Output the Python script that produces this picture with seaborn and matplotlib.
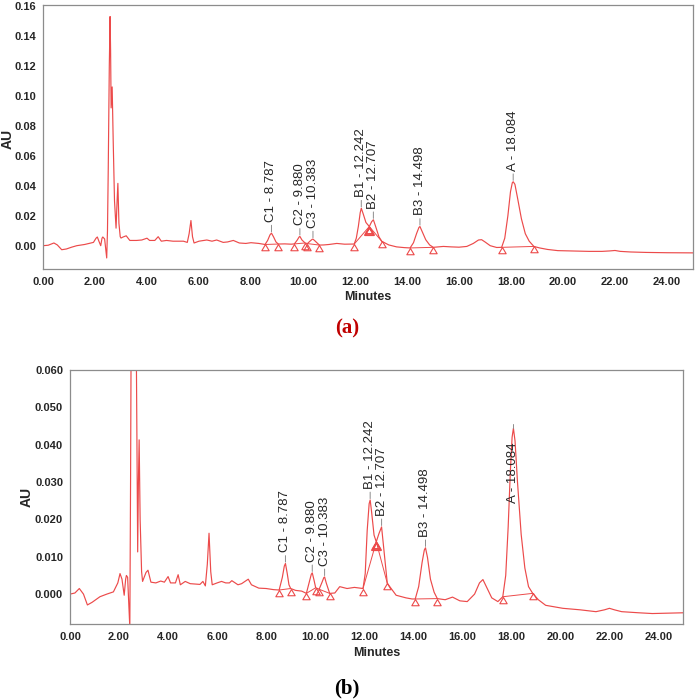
import pandas as pd
import seaborn as sns
import matplotlib.pyplot as plt
from matplotlib.path import Path
from matplotlib.ticker import MultipleLocator, AutoMinorLocator, FormatStrFormatter

# ---- panel (a): full scale trace ----
TIME_A = [0.0, 0.2, 0.42, 0.55, 0.72, 0.9, 1.1, 1.3, 1.6, 1.94, 2.04, 2.09, 2.15, 2.22, 2.27, 2.3, 2.37,
          2.45, 2.48, 2.51, 2.55, 2.58, 2.6, 2.62, 2.66, 2.7, 2.75, 2.81, 2.85, 2.88, 2.92, 2.97, 3.0,
          3.08, 3.2, 3.34, 3.6, 3.8, 4.0, 4.1, 4.3, 4.43, 4.55, 4.75, 5.0, 5.4, 5.55, 5.62, 5.69, 5.75,
          5.81, 6.0, 6.3, 6.5, 6.68, 6.93, 7.1, 7.32, 7.55, 7.8, 8.0, 8.3, 8.54, 8.64, 8.73, 8.787,
          8.87, 8.96, 9.05, 9.3, 9.55, 9.67, 9.78, 9.85, 9.88, 9.96, 10.08, 10.17, 10.28, 10.35, 10.383,
          10.46, 10.63, 10.8, 11.0, 11.3, 11.6, 11.97, 12.05, 12.13, 12.2, 12.242, 12.32, 12.42, 12.55,
          12.64, 12.707, 12.8, 12.92, 13.03, 13.3, 13.6, 13.9, 14.12, 14.25, 14.37, 14.46, 14.498,
          14.58, 14.72, 14.87, 15.01, 15.4, 15.7, 16.0, 16.3, 16.55, 16.75, 16.87, 17.0, 17.2, 17.45,
          17.64, 17.76, 17.88, 17.98, 18.05, 18.084, 18.15, 18.25, 18.4, 18.55, 18.7, 18.88, 19.1,
          19.4, 19.8, 20.5, 21.0, 21.5, 21.8, 22.0, 22.2, 22.6, 23.2, 24.0, 25.0]
AU_A = [0.0, 0.0003, 0.0018, 0.0005, -0.0027, -0.0022, -0.001, 0.0, 0.0008, 0.0022, 0.005, 0.0058,
        0.003, 0.0, 0.005, 0.0058, 0.0045, -0.0082, 0.01, 0.052, 0.12, 0.153, 0.13, 0.092, 0.106, 0.07,
        0.03, 0.0117, 0.03, 0.0416, 0.015, 0.006, 0.0051, 0.0058, 0.0066, 0.0035, 0.0035, 0.0038,
        0.005, 0.0035, 0.0035, 0.006, 0.003, 0.0035, 0.003, 0.003, 0.0022, 0.008, 0.0168, 0.006,
        0.0018, 0.003, 0.0038, 0.003, 0.0038, 0.0022, 0.0025, 0.0035, 0.0018, 0.0015, 0.002, 0.0015,
        0.0008, 0.0035, 0.0072, 0.0084, 0.0058, 0.0025, 0.0011, 0.0012, 0.001, 0.0012, 0.0038, 0.0058,
        0.0062, 0.0038, 0.0018, 0.0014, 0.0032, 0.0042, 0.0044, 0.0032, 0.0004, 0.0005, 0.0008, 0.0015,
        0.001, 0.0011, 0.005, 0.013, 0.022, 0.025, 0.021, 0.0155, 0.0128, 0.016, 0.0173, 0.0125, 0.006,
        0.0029, 0.0005, -0.0008, -0.0013, -0.0015, 0.002, 0.0082, 0.0122, 0.0128, 0.0095, 0.004,
        0.0005, -0.0011, -0.0005, -0.0008, -0.001, -0.0005, 0.0015, 0.0038, 0.004, 0.0025, 0.0,
        -0.0012, -0.0011, 0.005, 0.02, 0.036, 0.042, 0.0427, 0.041, 0.032, 0.018, 0.008, 0.003,
        -0.0005, -0.0015, -0.0025, -0.0033, -0.0036, -0.0038, -0.0038, -0.0035, -0.0032, -0.0038,
        -0.0042, -0.0045, -0.0047, -0.0048]

# ---- panel (b): expanded scale trace ----
TIME_B = [0.0, 0.2, 0.38, 0.55, 0.71, 0.9, 1.22, 1.5, 1.77, 1.95, 2.04, 2.12, 2.21, 2.27, 2.3, 2.35,
          2.44, 2.47, 2.5, 2.55, 2.58, 2.62, 2.66, 2.7, 2.76, 2.79, 2.82, 2.86, 2.92, 2.96, 3.1, 3.18,
          3.3, 3.5, 3.7, 3.85, 3.95, 4.0, 4.1, 4.3, 4.41, 4.5, 4.7, 4.9, 5.3, 5.42, 5.52, 5.6, 5.67,
          5.74, 5.8, 6.0, 6.18, 6.35, 6.5, 6.6, 6.85, 7.0, 7.27, 7.4, 7.7, 8.0, 8.3, 8.53, 8.66, 8.74,
          8.787, 8.86, 8.93, 9.0, 9.2, 9.45, 9.64, 9.76, 9.84, 9.88, 9.95, 10.02, 10.16, 10.28, 10.35,
          10.383, 10.45, 10.59, 10.8, 11.0, 11.3, 11.6, 11.95, 12.04, 12.12, 12.2, 12.242, 12.3, 12.4,
          12.49, 12.6, 12.707, 12.8, 12.94, 13.3, 13.7, 13.95, 14.08, 14.22, 14.36, 14.45, 14.498,
          14.58, 14.7, 14.85, 14.98, 15.3, 15.6, 15.9, 16.2, 16.5, 16.7, 16.84, 16.98, 17.2, 17.45,
          17.65, 17.77, 17.87, 17.96, 18.03, 18.084, 18.15, 18.25, 18.4, 18.55, 18.7, 18.87, 19.1,
          19.4, 20.1, 20.8, 21.45, 21.8, 22.0, 22.2, 22.5, 23.2, 23.75, 25.0]
AU_B = [0.0, 0.0003, 0.0015, 0.0, -0.0029, -0.0022, -0.0007, 0.0, 0.0006, 0.003, 0.0055, 0.004,
        -0.0003, 0.004, 0.005, 0.0045, -0.009, 0.03, 0.08, 0.12, 0.153, 0.092, 0.106, 0.07, 0.0113,
        0.03, 0.0413, 0.02, 0.006, 0.0034, 0.0058, 0.0064, 0.0032, 0.003, 0.0035, 0.0032, 0.0042,
        0.0047, 0.003, 0.003, 0.0052, 0.0025, 0.0034, 0.0028, 0.0026, 0.0034, 0.0022, 0.008, 0.0163,
        0.006, 0.0025, 0.003, 0.0034, 0.003, 0.003, 0.0036, 0.0025, 0.0028, 0.004, 0.0025, 0.0016,
        0.0015, 0.0012, 0.0011, 0.0045, 0.0075, 0.0082, 0.0055, 0.0025, 0.0015, 0.001, 0.0008, 0.0002,
        0.0032, 0.0053, 0.0057, 0.0038, 0.0017, 0.0013, 0.0032, 0.0044, 0.0046, 0.003, 0.0002, 0.0003,
        0.002, 0.0015, 0.0018, 0.0015, 0.0055, 0.017, 0.0242, 0.0252, 0.022, 0.0158, 0.014, 0.0162,
        0.018, 0.012, 0.0029, -0.0003, -0.001, -0.0013, -0.0013, 0.002, 0.0085, 0.0118, 0.0124,
        0.0098, 0.004, 0.0005, -0.0012, -0.0015, -0.0008, -0.0018, -0.002, 0.0, 0.003, 0.0039, 0.002,
        -0.001, -0.002, -0.0007, 0.005, 0.018, 0.033, 0.042, 0.0444, 0.041, 0.03, 0.016, 0.007, 0.002,
        0.0002, -0.0015, -0.003, -0.0038, -0.0042, -0.0047, -0.0042, -0.0038, -0.0042, -0.0047,
        -0.005, -0.0052, -0.005]

# ---- peak table ----
PEAK_NAMES = ['C1', 'C2', 'C3', 'B1', 'B2', 'B3', 'A']
PEAK_RT = [8.787, 9.880, 10.383, 12.242, 12.707, 14.498, 18.084]
APEX_A = [0.0084, 0.0062, 0.0044, 0.025, 0.0173, 0.0128, 0.0427]
APEX_B = [0.0082, 0.0057, 0.0046, 0.0252, 0.018, 0.0124, 0.0444]

START_T_A = [8.54, 9.67, 10.17, 11.97, 12.55, 14.12, 17.64]
START_Y_A = [0.0008, 0.0012, 0.0014, 0.0011, 0.0128, -0.0015, -0.0011]
END_T_A = [9.05, 10.08, 10.63, 12.55, 13.03, 15.01, 18.88]
END_Y_A = [0.0011, 0.0018, 0.0004, 0.0128, 0.0029, -0.0011, -0.0005]

START_T_B = [8.53, 9.64, 10.16, 11.95, 12.49, 14.08, 17.65]
START_Y_B = [0.0011, 0.0002, 0.0013, 0.0015, 0.014, -0.0013, -0.0007]
END_T_B = [9.00, 10.02, 10.59, 12.49, 12.94, 14.98, 18.87]
END_Y_B = [0.0015, 0.0017, 0.0002, 0.014, 0.0029, -0.0012, 0.0002]

RED = '#ec4a4a'
GREY = '#8c8c8c'

# triangle marker with its apex on the data point
TRI = Path([(0, 0), (-0.5, -0.85), (0.5, -0.85), (0, 0)],
           [Path.MOVETO, Path.LINETO, Path.LINETO, Path.CLOSEPOLY])


def draw_panel(ax, t, au, apex, st, sy, et, ey, ylim, ymajor, yfmt):
    df = pd.DataFrame({'Minutes': t, 'AU': au})
    sns.lineplot(x='Minutes', y='AU', data=df, ax=ax, color=RED, lw=0.85, sort=False)

    n = len(PEAK_NAMES)
    for i in range(n):
        ax.plot([st[i], et[i]], [sy[i], ey[i]], color=RED, lw=0.7)
        ax.plot([st[i], et[i]], [sy[i], ey[i]], ls='none', marker=TRI, ms=9,
                mfc='none', mec=RED, mew=0.8)
        # shared valley point between fused peaks gets the heavier marker
        if i + 1 < n and et[i] == st[i + 1]:
            ax.plot([et[i]], [ey[i]], ls='none', marker=TRI, ms=11,
                    mfc='none', mec=RED, mew=1.4)

        label = f'{PEAK_NAMES[i]} - {PEAK_RT[i]:.3f}'
        if apex[i] > 0.65 * ylim[1]:
            # too tall: label goes inside the peak
            ax.plot([PEAK_RT[i], PEAK_RT[i]], [apex[i], apex[i] + 0.0012], color=GREY, lw=0.7)
            ax.annotate(label, xy=(PEAK_RT[i], apex[i]), xytext=(0, -10),
                        textcoords='offset points', rotation=90, ha='center', va='top',
                        fontsize=9.5)
        else:
            ax.annotate(label, xy=(PEAK_RT[i], apex[i]), xytext=(0, 8),
                        textcoords='offset points', rotation=90, ha='center', va='bottom',
                        fontsize=9.5,
                        arrowprops=dict(arrowstyle='-', color=GREY, lw=0.7,
                                        shrinkA=0, shrinkB=1))

    ax.set_xlim(0, 25)
    ax.set_ylim(*ylim)
    ax.xaxis.set_major_locator(MultipleLocator(2))
    ax.xaxis.set_minor_locator(MultipleLocator(0.5))
    ax.xaxis.set_major_formatter(FormatStrFormatter('%.2f'))
    ax.yaxis.set_major_locator(MultipleLocator(ymajor))
    ax.yaxis.set_minor_locator(AutoMinorLocator(5))
    ax.yaxis.set_major_formatter(FormatStrFormatter(yfmt))
    ax.tick_params(which='both', direction='out', color=GREY, width=0.8)
    ax.tick_params(which='major', length=4, labelsize=8)
    ax.tick_params(axis='y', which='major', pad=1)
    ax.tick_params(axis='x', which='major', pad=2)
    ax.tick_params(which='minor', length=2.5)
    for lab in ax.get_xticklabels() + ax.get_yticklabels():
        lab.set_fontweight('bold')
    for sp in ax.spines.values():
        sp.set_color(GREY)
        sp.set_linewidth(0.9)
    ax.set_xlabel('Minutes', fontsize=9, fontweight='bold', labelpad=3)
    ax.set_ylabel('AU', fontsize=10, fontweight='bold')


def main():
    sns.set_style('white')
    plt.rcParams['font.family'] = ['Liberation Sans', 'DejaVu Sans']

    fig = plt.figure(figsize=(6.95, 7.0), dpi=100)

    ax1 = fig.add_axes([43 / 695, 1 - 268.6 / 700, 650 / 695, 263.6 / 700])
    draw_panel(ax1, TIME_A, AU_A, APEX_A, START_T_A, START_Y_A, END_T_A, END_Y_A,
               (-0.0153, 0.1607), 0.02, '%.2f')
    ax1.yaxis.set_label_coords(-0.043, 0.49)

    ax2 = fig.add_axes([70 / 695, 1 - 624 / 700, 613 / 695, 254 / 700])
    draw_panel(ax2, TIME_B, AU_B, APEX_B, START_T_B, START_Y_B, END_T_B, END_Y_B,
               (-0.008, 0.060), 0.01, '%.3f')
    ax2.yaxis.set_label_coords(-0.059, 0.5)

    fig.text(347 / 695, 1 - 328 / 700, '(a)', color='#c00000', fontsize=15,
             fontweight='bold', family='Liberation Serif', ha='center', va='center')
    fig.text(347 / 695, 1 - 688 / 700, '(b)', color='black', fontsize=15,
             fontweight='bold', family='Liberation Serif', ha='center', va='center')

    fig.savefig('out.png', dpi=100)


if __name__ == '__main__':
    main()
